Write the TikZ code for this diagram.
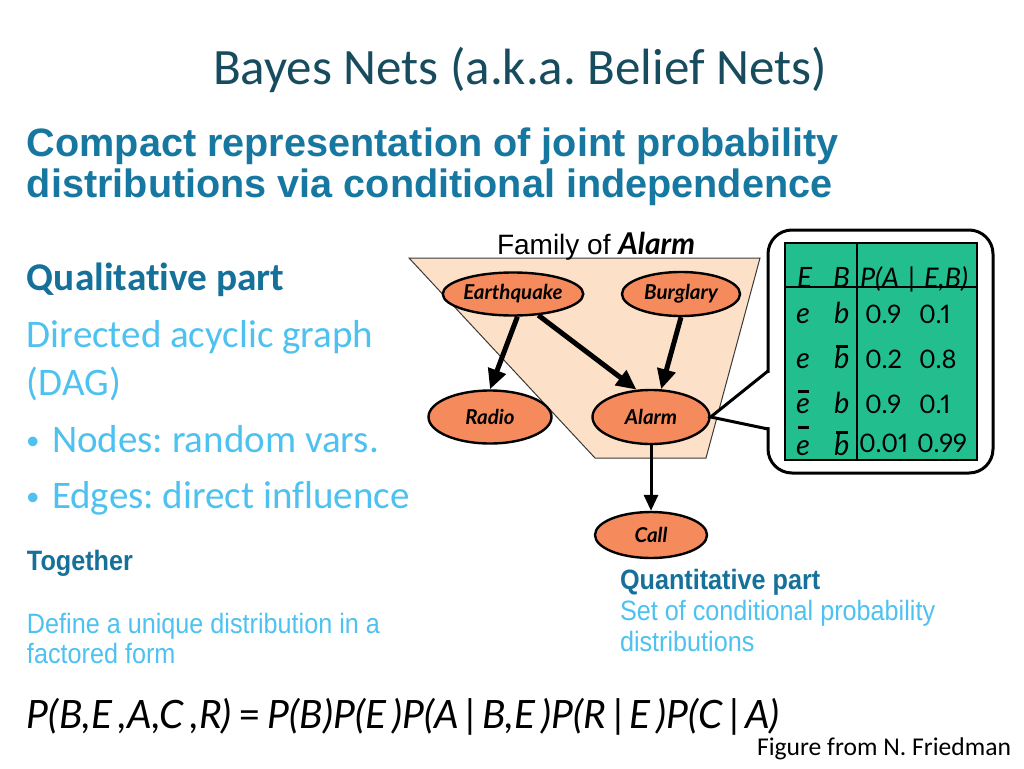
\documentclass[tikz,border=0pt]{standalone}
\usepackage{fontspec}
\setmainfont{Carlito}[Ligatures=NoCommon]
\newfontfamily\arialf{Liberation Sans}
\newfontfamily\narrowf[FakeStretch=0.9]{Liberation Sans}
\newfontfamily\comicf{Lato}
\newfontfamily\comicnum[Numbers=Proportional]{Lato}
\usetikzlibrary{arrows.meta,shapes.geometric}
\definecolor{titlec}{HTML}{174B5E}
\definecolor{headc}{HTML}{1677A0}
\definecolor{darkhead}{HTML}{15709A}
\definecolor{lightc}{HTML}{4DC2F0}
\definecolor{peach}{HTML}{FCE1C8}
\definecolor{trapline}{HTML}{3A3A3A}
\definecolor{nodefill}{HTML}{F58A5C}
\definecolor{tablegreen}{HTML}{22BE8E}
\newcommand{\fs}[1]{\fontsize{#1}{#1}\selectfont}
\frenchspacing
\begin{document}
\begin{tikzpicture}[x=1pt,y=-1pt,
  txt/.style={anchor=base west, inner sep=0pt, outer sep=0pt},
  bn/.style={ellipse, draw=black, line width=2.4pt, fill=nodefill, inner sep=0pt,
    font=\comicf\bfseries\itshape\fs{20.5}},
  thickarrow/.style={line width=5pt, -{Triangle[length=20pt,width=18pt]}},
  thinarrow/.style={line width=3pt, -{Triangle[length=16pt,width=14pt]}},
  barline/.style={line width=3pt},
  tabtxt/.style={anchor=base west, inner sep=0pt, outer sep=0pt},
  letter/.style={tabtxt, font=\comicf\itshape\fs{29}},
  digits/.style={tabtxt, font=\comicnum\fs{25.5}},
]
\useasboundingbox (0,0) rectangle (1024,768);
\fill[white] (0,0) rectangle (1024,768);

% Title and heading
\node[txt, text=titlec, font=\fs{51}] (title) at (213,84) {Bayes Nets (a.k.a. Belief Nets)};
\node[txt, text=headc, font=\arialf\bfseries\fs{39.6}] (sub1) at (27,156) {Compact representation of joint probability};
\node[txt, text=headc, font=\arialf\bfseries\fs{39.6}] (sub2) at (27,197) {distributions via conditional independence};

% Left column
\node[txt, text=darkhead, font=\bfseries\fs{39.3}] (qual) at (27,290) {Qualitative part};
\node[txt, text=lightc, font=\fs{39}] (dag1) at (27,347) {Directed acyclic graph};
\node[txt, text=lightc, font=\fs{39}] (dag2) at (27,395) {(DAG)};
\node[txt, text=lightc, font=\fs{27}] (bul1) at (26,449) {•};
\node[txt, text=lightc, font=\fs{39}] (nodes) at (52,452) {Nodes: random vars.};
\node[txt, text=lightc, font=\fs{27}] (bul2) at (26,505) {•};
\node[txt, text=lightc, font=\fs{39}] (edges) at (52,508) {Edges: direct influence};
\node[txt, text=darkhead, font=\narrowf\bfseries\fs{28}] (tog) at (27,570) {Together};
\node[txt, text=lightc, font=\narrowf\fs{28}] (def1) at (27,633) {Define a unique distribution in a};
\node[txt, text=lightc, font=\narrowf\fs{28}] (def2) at (27,663) {factored form};

% Right bottom
\node[txt, text=darkhead, font=\narrowf\bfseries\fs{28}] (quant) at (620,589) {Quantitative part};
\node[txt, text=lightc, font=\narrowf\fs{28}] (set1) at (620,620) {Set of conditional probability};
\node[txt, text=lightc, font=\narrowf\fs{28}] (set2) at (620,651) {distributions};

% Formula and credit
\node[txt, font=\comicf\fs{36}] (formula) at (27,728) {\resizebox{753pt}{!}{\itshape P(B,E\,,A,C\,,R)\,{\upshape=}\,P(B)P(E\,)P(A\,{\upshape|}\,B,E\,)P(R\,{\upshape|}\,E\,)P(C\,{\upshape|}\,A)}};
\node[txt, font=\fs{25.6}] (credit) at (757,755) {Figure from N. Friedman};

% Family region
\draw[fill=peach, draw=trapline, line width=1pt] (409,258) -- (760,258) -- (706,458) -- (595,458) -- cycle;
\node[txt, font=\arialf\fs{28}] (family) at (497,254) {Family of {\comicf\bfseries\itshape\fs{30}Alarm}};

% Network nodes
\node[bn, minimum width=120pt, minimum height=43pt] (eq) at (513,294) {Earthquake};
\node[bn, minimum width=118pt, minimum height=44pt] (bur) at (681,294) {Burglary};
\node[bn, minimum width=123pt, minimum height=53pt] (radio) at (490,417) {Radio};
\node[bn, minimum width=117pt, minimum height=54pt] (alarm) at (651,417) {Alarm};
\node[bn, minimum width=112pt, minimum height=46pt] (call) at (651,535) {Call};

\draw[thickarrow] (eq.-79) -- (radio.north);
\draw[thickarrow] (eq.-40) -- (alarm.118);
\draw[thickarrow] (bur.south) -- (alarm.70);
\draw[thinarrow] (alarm.south) -- (call.north);

% Callout with CPT
\draw[line width=3pt, rounded corners=24pt, fill=white] (768,230) rectangle (993,473);
\fill[white] (766,373) -- (alarm.east) -- (766,427) -- (771,427) -- (771,373) -- cycle;
\draw[line width=3pt, line join=miter] (768,371) -- (alarm.east) -- (768,429);

\draw[fill=tablegreen, line width=2pt] (785,243) rectangle (977,460);
\draw[line width=2.5pt] (857,243) -- (857,460);
\draw[line width=2.5pt] (785,287) -- (977,287);

\node[tabtxt, font=\comicf\itshape\fs{28}] (hE) at (797,287) {E};
\node[tabtxt, font=\comicf\itshape\fs{28}] (hB) at (833,287) {B};
\node[tabtxt, font=\comicf\itshape\fs{27}] (hP) at (860,287) {P(A\hspace{9pt}|\hspace{9pt}E,B)};

\node[letter] (r1e) at (796,323) {e};
\node[letter] (r1b) at (834,323) {b};
\node[digits] (r1p) at (865,323) {0.9};
\node[digits] (r1q) at (919,323) {0.1};

\node[letter] (r2e) at (796,368) {e};
\node[letter] (r2b) at (834,368) {b};
\node[digits] (r2p) at (865,368) {0.2};
\node[digits] (r2q) at (919,368) {0.8};

\node[letter] (r3e) at (796,413) {e};
\node[letter] (r3b) at (834,413) {b};
\node[digits] (r3p) at (865,413) {0.9};
\node[digits] (r3q) at (919,413) {0.1};

\node[letter] (r4e) at (796,455) {e};
\node[letter] (r4b) at (834,455) {b};
\node[digits] (r4p) at (859,452) {0.01};
\node[digits] (r4q) at (917,452) {0.99};

\draw[barline] (836,346) -- (848,346);
\draw[barline] (798,391) -- (809,391);
\draw[barline] (798,427) -- (809,427);
\draw[barline] (836,432) -- (848,432);
\end{tikzpicture}
\end{document}
